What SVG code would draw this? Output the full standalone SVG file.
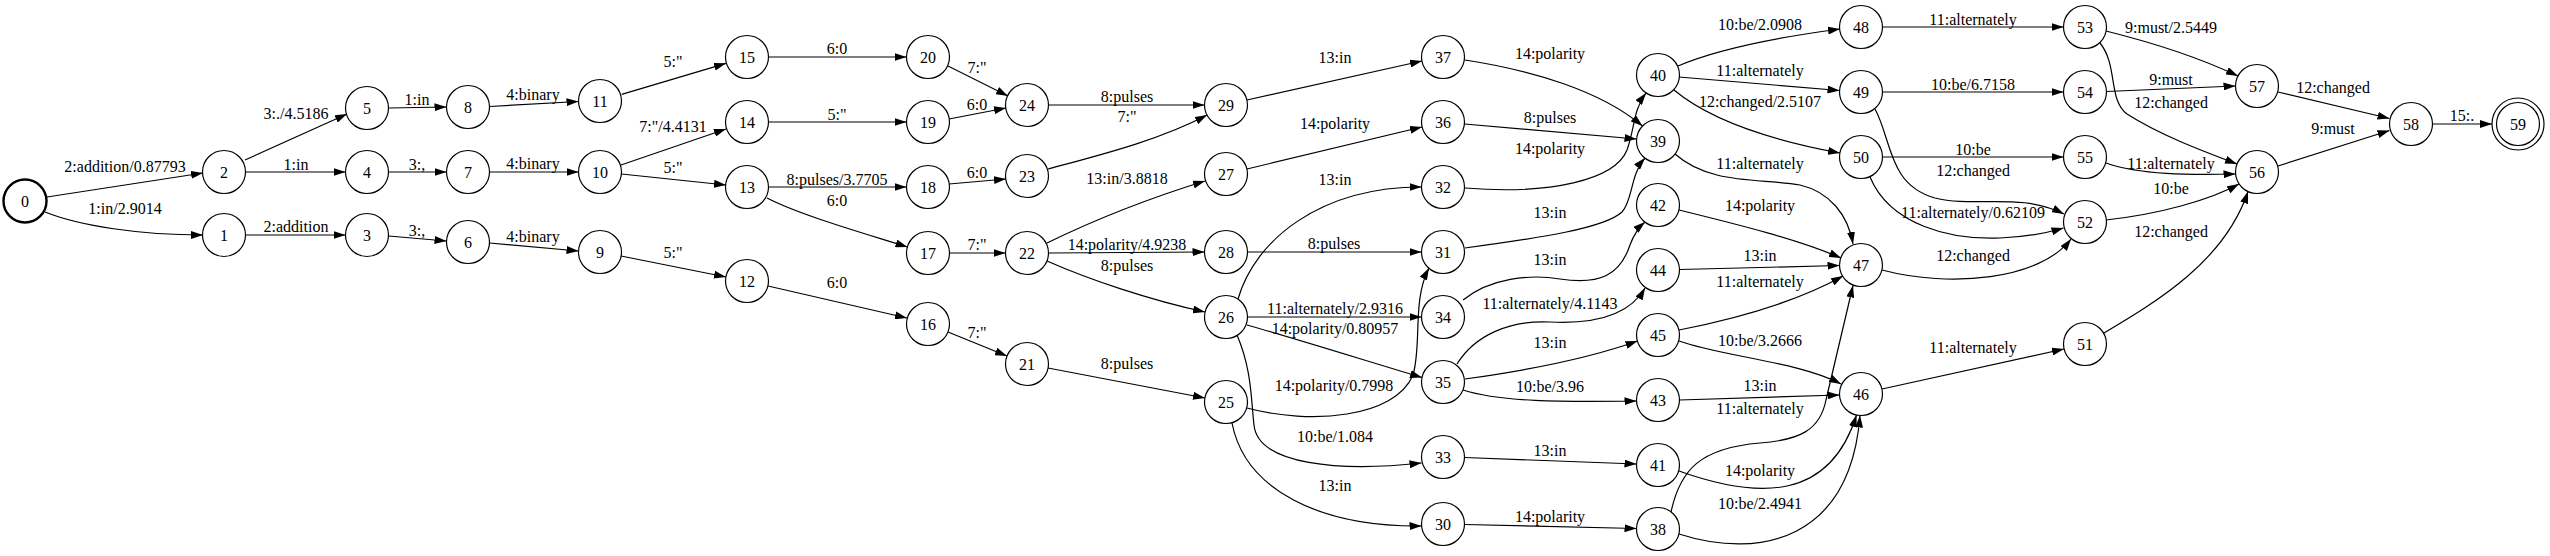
<svg xmlns="http://www.w3.org/2000/svg" width="2550" height="556" viewBox="0 0 2550 556">
<style>
text{font-family:"Liberation Serif","Times New Roman",serif;font-size:16px;text-anchor:middle;fill:#000}
.n circle{fill:none;stroke:#000;stroke-width:1.2}
.e path{fill:none;stroke:#000;stroke-width:1.2;marker-end:url(#a)}
</style>
<defs>
<marker id="a" markerWidth="12" markerHeight="8" refX="12" refY="4" orient="auto" markerUnits="userSpaceOnUse"><path d="M0,0 L12,4 L0,8 z" fill="#000"/></marker>
</defs>
<rect width="2550" height="556" fill="#fff"/>
<g id="connectors">
<g class="e"><path d="M47,197 L203,173"/><text x="125" y="172">2:addition/0.87793</text></g>
<g class="e"><path d="M45,212 C80,226 140,235 203,235"/><text x="125" y="214">1:in/2.9014</text></g>
<g class="e"><path d="M245,160 L347,114"/><text x="296" y="118.5">3:./4.5186</text></g>
<g class="e"><path d="M245.5,172 L345.5,172"/><text x="296" y="170">1:in</text></g>
<g class="e"><path d="M245.5,235 L345.5,235"/><text x="296" y="231.5">2:addition</text></g>
<g class="e"><path d="M388.5,108 L446.5,107"/><text x="417" y="105">1:in</text></g>
<g class="e"><path d="M388.5,172 L446.5,172"/><text x="417" y="170">3:,</text></g>
<g class="e"><path d="M388.5,236 L446.5,241"/><text x="417" y="235.5">3:,</text></g>
<g class="e"><path d="M489.5,106.5 L578.5,101.5"/><text x="533" y="100">4:binary</text></g>
<g class="e"><path d="M489.5,172 L578.5,172"/><text x="533" y="169">4:binary</text></g>
<g class="e"><path d="M489.5,243 L578.5,251"/><text x="533" y="242">4:binary</text></g>
<g class="e"><path d="M621.7,94.3 L726,63.3"/><text x="673" y="66.5">5:"</text></g>
<g class="e"><path d="M621,165 L726,129"/><text x="673" y="132">7:"/4.4131</text></g>
<g class="e"><path d="M621.5,174 L726,185"/><text x="673" y="173">5:"</text></g>
<g class="e"><path d="M621,256 L726,277"/><text x="673" y="257.5">5:"</text></g>
<g class="e"><path d="M768.5,57 L906.5,57"/><text x="837" y="54">6:0</text></g>
<g class="e"><path d="M768.5,122 L906.5,122"/><text x="837" y="119.5">5:"</text></g>
<g class="e"><path d="M768.5,187 L906.5,187"/><text x="837" y="185">8:pulses/3.7705</text></g>
<g class="e"><path d="M767,198 C800,215 860,232 907.5,247"/><text x="837" y="206">6:0</text></g>
<g class="e"><path d="M768,286 L907,318"/><text x="837" y="287.5">6:0</text></g>
<g class="e"><path d="M948,66 L1008,96"/><text x="977" y="73">7:"</text></g>
<g class="e"><path d="M949,119 L1006,108"/><text x="977" y="110">6:0</text></g>
<g class="e"><path d="M949,184 L1006,179"/><text x="977" y="178">6:0</text></g>
<g class="e"><path d="M949.5,253 L1005.5,253"/><text x="977" y="249.5">7:"</text></g>
<g class="e"><path d="M948,332 L1007,356"/><text x="977" y="337.5">7:"</text></g>
<g class="e"><path d="M1048.5,105 L1204.5,105"/><text x="1127" y="102">8:pulses</text></g>
<g class="e"><path d="M1048,169 C1100,155 1160,140 1207,115"/><text x="1127" y="122">7:"</text></g>
<g class="e"><path d="M1047,243 C1090,222 1150,198 1205,181"/><text x="1127" y="183.5">13:in/3.8818</text></g>
<g class="e"><path d="M1048.5,253 L1204.5,252"/><text x="1127" y="250">14:polarity/4.9238</text></g>
<g class="e"><path d="M1047,261 C1090,280 1150,300 1205,312"/><text x="1127" y="271">8:pulses</text></g>
<g class="e"><path d="M1048,368 L1205,398"/><text x="1127" y="369">8:pulses</text></g>
<g class="e"><path d="M1247,100 L1422,61"/><text x="1335" y="62.5">13:in</text></g>
<g class="e"><path d="M1247,169 L1422,127"/><text x="1335" y="129">14:polarity</text></g>
<g class="e"><path d="M1238,299 C1255,240 1320,187 1421.5,187"/><text x="1335" y="185">13:in</text></g>
<g class="e"><path d="M1247.5,252 L1421.5,252"/><text x="1334" y="249">8:pulses</text></g>
<g class="e"><path d="M1247.5,317 L1421.5,317"/><text x="1335" y="314">11:alternately/2.9316</text></g>
<g class="e"><path d="M1247,325 C1300,340 1370,362 1422,377.5"/><text x="1335" y="334">14:polarity/0.80957</text></g>
<g class="e"><path d="M1247,408 C1310,425 1395,418 1413,375 C1422,345 1412,300 1429,268"/><text x="1334" y="391">14:polarity/0.7998</text></g>
<g class="e"><path d="M1237,335 C1252,370 1251,400 1254,425 C1258,465 1340,472 1421.5,463"/><text x="1335" y="441.5">10:be/1.084</text></g>
<g class="e"><path d="M1232,423 C1245,490 1320,527 1421.5,526"/><text x="1335" y="490.5">13:in</text></g>
<g class="e"><path d="M1465,60 C1530,70 1600,90 1642.5,126"/><text x="1550" y="59">14:polarity</text></g>
<g class="e"><path d="M1464.5,124 L1636.5,139"/><text x="1550" y="123">8:pulses</text></g>
<g class="e"><path d="M1465,188 C1550,195 1615,180 1627,150 C1635,128 1633,110 1646,93"/><text x="1550" y="154">14:polarity</text></g>
<g class="e"><path d="M1465,248 C1540,238 1605,228 1622,212 C1633,200 1630,175 1645,158"/><text x="1550" y="218">13:in</text></g>
<g class="e"><path d="M1463,300 C1490,278 1530,274 1560,279 C1600,285 1620,275 1630,245 C1634,234 1638,228 1645,222"/><text x="1550" y="265">13:in</text></g>
<g class="e"><path d="M1457,364 C1475,335 1510,320 1550,322 C1590,324 1628,318 1645,288"/><text x="1550" y="309">11:alternately/4.1143</text></g>
<g class="e"><path d="M1465,379 C1530,370 1590,358 1637.5,341"/><text x="1550" y="348">13:in</text></g>
<g class="e"><path d="M1463,390 C1500,402 1560,402 1636.5,401"/><text x="1550" y="391.5">10:be/3.96</text></g>
<g class="e"><path d="M1464.5,457.5 L1636.5,464"/><text x="1550" y="455.5">13:in</text></g>
<g class="e"><path d="M1464.5,524.5 L1636.5,528.5"/><text x="1550" y="522">14:polarity</text></g>
<g class="e"><path d="M1678,66 C1720,48 1780,37 1840,29"/><text x="1760" y="29.5">10:be/2.0908</text></g>
<g class="e"><path d="M1679,77 L1839.5,90.5"/><text x="1760" y="76">11:alternately</text></g>
<g class="e"><path d="M1674,90 C1710,120 1770,140 1840,153"/><text x="1760" y="107">12:changed/2.5107</text></g>
<g class="e"><path d="M1675,154 C1710,185 1760,178 1800,185 C1830,192 1848,215 1853,244"/><text x="1760" y="169">11:alternately</text></g>
<g class="e"><path d="M1679,210 C1740,225 1800,240 1841,258"/><text x="1760" y="211">14:polarity</text></g>
<g class="e"><path d="M1679.5,269.5 L1839.5,265.5"/><text x="1760" y="260.5">13:in</text></g>
<g class="e"><path d="M1679,330 C1740,318 1800,300 1843,276"/><text x="1760" y="287">11:alternately</text></g>
<g class="e"><path d="M1679,341 C1720,356 1800,362 1841,384"/><text x="1760" y="345.5">10:be/3.2666</text></g>
<g class="e"><path d="M1679.5,400 L1839.5,395"/><text x="1760" y="391">13:in</text></g>
<g class="e"><path d="M1671,512 C1680,470 1700,448 1760,443 C1800,440 1820,430 1826,400 L1853,285.5"/><text x="1760" y="414">11:alternately</text></g>
<g class="e"><path d="M1679,471 C1760,500 1830,500 1856.5,415"/><text x="1760" y="475.5">14:polarity</text></g>
<g class="e"><path d="M1679,534 C1760,560 1850,540 1860,415.5"/><text x="1760" y="509">10:be/2.4941</text></g>
<g class="e"><path d="M1882,270 C1950,288 2040,280 2071,239"/><text x="1973" y="261">12:changed</text></g>
<g class="e"><path d="M1882.5,92 L2063.5,92"/><text x="1973" y="90">10:be/6.7158</text></g>
<g class="e"><path d="M1875,109 C1892,140 1888,185 1935,198 C1975,208 2020,192 2064,214"/><text x="1973" y="176">12:changed</text></g>
<g class="e"><path d="M1882.5,157 L2063.5,157"/><text x="1973" y="155">10:be</text></g>
<g class="e"><path d="M1870,177 C1890,225 1950,240 2000,238 C2030,237 2050,232 2063.5,228"/><text x="1973" y="218">11:alternately/0.62109</text></g>
<g class="e"><path d="M1882.5,27 L2063.5,27"/><text x="1973" y="25">11:alternately</text></g>
<g class="e"><path d="M1882,389 L2064,349"/><text x="1973" y="352.5">11:alternately</text></g>
<g class="e"><path d="M2106,31 C2150,42 2200,58 2238,76"/><text x="2171" y="33">9:must/2.5449</text></g>
<g class="e"><path d="M2106.5,91.5 L2235.5,86"/><text x="2171" y="85">9:must</text></g>
<g class="e"><path d="M2100,43 C2118,65 2108,100 2127,114 C2160,135 2200,150 2237,164"/><text x="2171" y="108">12:changed</text></g>
<g class="e"><path d="M2106,163 C2140,175 2190,175 2235.5,174"/><text x="2171" y="169">11:alternately</text></g>
<g class="e"><path d="M2106,220 C2160,214 2210,200 2239,184"/><text x="2171" y="194">10:be</text></g>
<g class="e"><path d="M2104,333 C2160,300 2225,260 2248,191.5"/><text x="2171" y="237">12:changed</text></g>
<g class="e"><path d="M2278,92 L2389.5,118.5"/><text x="2333" y="92.5">12:changed</text></g>
<g class="e"><path d="M2278,166 L2389.5,130.5"/><text x="2333" y="133.5">9:must</text></g>
<g class="e"><path d="M2432.5,124 L2492,124"/><text x="2462" y="121">15:.</text></g>
</g>
<g id="node0" class="n"><circle cx="25" cy="201" r="21.5" style="stroke-width:2.4"/><text x="25" y="206.5">0</text></g>
<g id="node1" class="n"><circle cx="224" cy="235" r="21.5"/><text x="224" y="240.5">1</text></g>
<g id="node2" class="n"><circle cx="224" cy="172" r="21.5"/><text x="224" y="177.5">2</text></g>
<g id="node3" class="n"><circle cx="367" cy="235" r="21.5"/><text x="367" y="240.5">3</text></g>
<g id="node4" class="n"><circle cx="367" cy="172" r="21.5"/><text x="367" y="177.5">4</text></g>
<g id="node5" class="n"><circle cx="367" cy="108" r="21.5"/><text x="367" y="113.5">5</text></g>
<g id="node6" class="n"><circle cx="468" cy="242" r="21.5"/><text x="468" y="247.5">6</text></g>
<g id="node7" class="n"><circle cx="468" cy="172" r="21.5"/><text x="468" y="177.5">7</text></g>
<g id="node8" class="n"><circle cx="468" cy="107" r="21.5"/><text x="468" y="112.5">8</text></g>
<g id="node9" class="n"><circle cx="600" cy="252" r="21.5"/><text x="600" y="257.5">9</text></g>
<g id="node10" class="n"><circle cx="600" cy="172" r="21.5"/><text x="600" y="177.5">10</text></g>
<g id="node11" class="n"><circle cx="600" cy="101" r="21.5"/><text x="600" y="106.5">11</text></g>
<g id="node12" class="n"><circle cx="747" cy="281" r="21.5"/><text x="747" y="286.5">12</text></g>
<g id="node13" class="n"><circle cx="747" cy="187" r="21.5"/><text x="747" y="192.5">13</text></g>
<g id="node14" class="n"><circle cx="747" cy="122" r="21.5"/><text x="747" y="127.5">14</text></g>
<g id="node15" class="n"><circle cx="747" cy="57" r="21.5"/><text x="747" y="62.5">15</text></g>
<g id="node16" class="n"><circle cx="928" cy="324" r="21.5"/><text x="928" y="329.5">16</text></g>
<g id="node17" class="n"><circle cx="928" cy="253" r="21.5"/><text x="928" y="258.5">17</text></g>
<g id="node18" class="n"><circle cx="928" cy="187" r="21.5"/><text x="928" y="192.5">18</text></g>
<g id="node19" class="n"><circle cx="928" cy="122" r="21.5"/><text x="928" y="127.5">19</text></g>
<g id="node20" class="n"><circle cx="928" cy="57" r="21.5"/><text x="928" y="62.5">20</text></g>
<g id="node21" class="n"><circle cx="1027" cy="364" r="21.5"/><text x="1027" y="369.5">21</text></g>
<g id="node22" class="n"><circle cx="1027" cy="253" r="21.5"/><text x="1027" y="258.5">22</text></g>
<g id="node23" class="n"><circle cx="1027" cy="176" r="21.5"/><text x="1027" y="181.5">23</text></g>
<g id="node24" class="n"><circle cx="1027" cy="105" r="21.5"/><text x="1027" y="110.5">24</text></g>
<g id="node25" class="n"><circle cx="1226" cy="402" r="21.5"/><text x="1226" y="407.5">25</text></g>
<g id="node26" class="n"><circle cx="1226" cy="317" r="21.5"/><text x="1226" y="322.5">26</text></g>
<g id="node27" class="n"><circle cx="1226" cy="174" r="21.5"/><text x="1226" y="179.5">27</text></g>
<g id="node28" class="n"><circle cx="1226" cy="252" r="21.5"/><text x="1226" y="257.5">28</text></g>
<g id="node29" class="n"><circle cx="1226" cy="105" r="21.5"/><text x="1226" y="110.5">29</text></g>
<g id="node30" class="n"><circle cx="1443" cy="524" r="21.5"/><text x="1443" y="529.5">30</text></g>
<g id="node31" class="n"><circle cx="1443" cy="252" r="21.5"/><text x="1443" y="257.5">31</text></g>
<g id="node32" class="n"><circle cx="1443" cy="187" r="21.5"/><text x="1443" y="192.5">32</text></g>
<g id="node33" class="n"><circle cx="1443" cy="457" r="21.5"/><text x="1443" y="462.5">33</text></g>
<g id="node34" class="n"><circle cx="1443" cy="317" r="21.5"/><text x="1443" y="322.5">34</text></g>
<g id="node35" class="n"><circle cx="1443" cy="382" r="21.5"/><text x="1443" y="387.5">35</text></g>
<g id="node36" class="n"><circle cx="1443" cy="122" r="21.5"/><text x="1443" y="127.5">36</text></g>
<g id="node37" class="n"><circle cx="1443" cy="57" r="21.5"/><text x="1443" y="62.5">37</text></g>
<g id="node38" class="n"><circle cx="1658" cy="529" r="21.5"/><text x="1658" y="534.5">38</text></g>
<g id="node39" class="n"><circle cx="1658" cy="141" r="21.5"/><text x="1658" y="146.5">39</text></g>
<g id="node40" class="n"><circle cx="1658" cy="75" r="21.5"/><text x="1658" y="80.5">40</text></g>
<g id="node41" class="n"><circle cx="1658" cy="465" r="21.5"/><text x="1658" y="470.5">41</text></g>
<g id="node42" class="n"><circle cx="1658" cy="205" r="21.5"/><text x="1658" y="210.5">42</text></g>
<g id="node43" class="n"><circle cx="1658" cy="400" r="21.5"/><text x="1658" y="405.5">43</text></g>
<g id="node44" class="n"><circle cx="1658" cy="270" r="21.5"/><text x="1658" y="275.5">44</text></g>
<g id="node45" class="n"><circle cx="1658" cy="335" r="21.5"/><text x="1658" y="340.5">45</text></g>
<g id="node46" class="n"><circle cx="1861" cy="394" r="21.5"/><text x="1861" y="399.5">46</text></g>
<g id="node47" class="n"><circle cx="1861" cy="265" r="21.5"/><text x="1861" y="270.5">47</text></g>
<g id="node48" class="n"><circle cx="1861" cy="27" r="21.5"/><text x="1861" y="32.5">48</text></g>
<g id="node49" class="n"><circle cx="1861" cy="92" r="21.5"/><text x="1861" y="97.5">49</text></g>
<g id="node50" class="n"><circle cx="1861" cy="157" r="21.5"/><text x="1861" y="162.5">50</text></g>
<g id="node51" class="n"><circle cx="2085" cy="344" r="21.5"/><text x="2085" y="349.5">51</text></g>
<g id="node52" class="n"><circle cx="2085" cy="222" r="21.5"/><text x="2085" y="227.5">52</text></g>
<g id="node53" class="n"><circle cx="2085" cy="27" r="21.5"/><text x="2085" y="32.5">53</text></g>
<g id="node54" class="n"><circle cx="2085" cy="92" r="21.5"/><text x="2085" y="97.5">54</text></g>
<g id="node55" class="n"><circle cx="2085" cy="157" r="21.5"/><text x="2085" y="162.5">55</text></g>
<g id="node56" class="n"><circle cx="2257" cy="172" r="21.5"/><text x="2257" y="177.5">56</text></g>
<g id="node57" class="n"><circle cx="2257" cy="86" r="21.5"/><text x="2257" y="91.5">57</text></g>
<g id="node58" class="n"><circle cx="2411" cy="124" r="21.5"/><text x="2411" y="129.5">58</text></g>
<g id="node59" class="n"><circle cx="2518" cy="124" r="26"/><circle cx="2518" cy="124" r="21.5"/><text x="2518" y="129.5">59</text></g>
</svg>
